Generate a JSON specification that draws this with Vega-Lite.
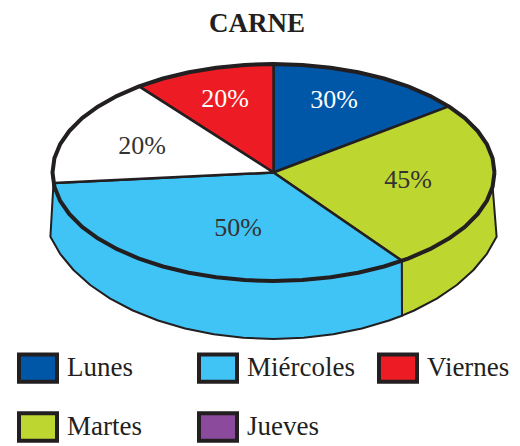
{"$schema":"https://vega.github.io/schema/vega-lite/v6.json","width":520,"height":446,"padding":0,"autosize":{"type":"none"},"background":"white","title":{"text":"CARNE","font":"Liberation Serif","fontSize":27,"fontWeight":"bold","color":"#231f20","anchor":"middle","dx":-3,"dy":27,"offset":-38,"baseline":"bottom"},"view":{"stroke":null},"config":{"axis":{"domain":false}},"datasets":{"caras":[
{"dia":"Miércoles","parte":"lateral","o":1,"x":-220,"y":-10.4},{"dia":"Miércoles","parte":"lateral","o":2,"x":-219.1,"y":-14.2},{"dia":"Miércoles","parte":"lateral","o":3,"x":-213.5,"y":-28.1},{"dia":"Miércoles","parte":"lateral","o":4,"x":-204.2,"y":-41.5},{"dia":"Miércoles","parte":"lateral","o":5,"x":-191.4,"y":-54.3},{"dia":"Miércoles","parte":"lateral","o":6,"x":-175.3,"y":-66.1},{"dia":"Miércoles","parte":"lateral","o":7,"x":-156.3,"y":-76.7},{"dia":"Miércoles","parte":"lateral","o":8,"x":-134.5,"y":-86.1},{"dia":"Miércoles","parte":"lateral","o":9,"x":-110.5,"y":-94},{"dia":"Miércoles","parte":"lateral","o":10,"x":-84.6,"y":-100.2},{"dia":"Miércoles","parte":"lateral","o":11,"x":-57.2,"y":-104.8},{"dia":"Miércoles","parte":"lateral","o":12,"x":-28.8,"y":-107.6},{"dia":"Miércoles","parte":"lateral","o":13,"x":0,"y":-108.5},{"dia":"Miércoles","parte":"lateral","o":14,"x":28.8,"y":-107.6},{"dia":"Miércoles","parte":"lateral","o":15,"x":57.2,"y":-104.8},{"dia":"Miércoles","parte":"lateral","o":16,"x":84.6,"y":-100.2},{"dia":"Miércoles","parte":"lateral","o":17,"x":110.5,"y":-94},{"dia":"Miércoles","parte":"lateral","o":18,"x":128.4,"y":-88.3},{"dia":"Miércoles","parte":"lateral","o":19,"x":128.5,"y":-143.2},{"dia":"Miércoles","parte":"lateral","o":20,"x":115.5,"y":-148},{"dia":"Miércoles","parte":"lateral","o":21,"x":88.4,"y":-156},{"dia":"Miércoles","parte":"lateral","o":22,"x":59.8,"y":-161.8},{"dia":"Miércoles","parte":"lateral","o":23,"x":30.2,"y":-165.3},{"dia":"Miércoles","parte":"lateral","o":24,"x":0,"y":-166.5},{"dia":"Miércoles","parte":"lateral","o":25,"x":-30.2,"y":-165.3},{"dia":"Miércoles","parte":"lateral","o":26,"x":-59.8,"y":-161.8},{"dia":"Miércoles","parte":"lateral","o":27,"x":-88.4,"y":-156},{"dia":"Miércoles","parte":"lateral","o":28,"x":-115.5,"y":-148},{"dia":"Miércoles","parte":"lateral","o":29,"x":-140.6,"y":-138},{"dia":"Miércoles","parte":"lateral","o":30,"x":-163.3,"y":-126.1},{"dia":"Miércoles","parte":"lateral","o":31,"x":-183.3,"y":-112.5},{"dia":"Miércoles","parte":"lateral","o":32,"x":-200,"y":-97.5},{"dia":"Miércoles","parte":"lateral","o":33,"x":-213.4,"y":-81.3},{"dia":"Miércoles","parte":"lateral","o":34,"x":-223.1,"y":-64.2},{"dia":"Miércoles","parte":"lateral","o":35,"x":-220,"y":-10.4},
{"dia":"Martes","parte":"lateral","o":1,"x":128.4,"y":-88.3},{"dia":"Martes","parte":"lateral","o":2,"x":134.5,"y":-86.1},{"dia":"Martes","parte":"lateral","o":3,"x":156.3,"y":-76.7},{"dia":"Martes","parte":"lateral","o":4,"x":175.3,"y":-66.1},{"dia":"Martes","parte":"lateral","o":5,"x":191.4,"y":-54.3},{"dia":"Martes","parte":"lateral","o":6,"x":204.2,"y":-41.5},{"dia":"Martes","parte":"lateral","o":7,"x":213.5,"y":-28.1},{"dia":"Martes","parte":"lateral","o":8,"x":219.1,"y":-14.2},{"dia":"Martes","parte":"lateral","o":9,"x":223.1,"y":-64.2},{"dia":"Martes","parte":"lateral","o":10,"x":213.4,"y":-81.3},{"dia":"Martes","parte":"lateral","o":11,"x":200,"y":-97.5},{"dia":"Martes","parte":"lateral","o":12,"x":183.3,"y":-112.5},{"dia":"Martes","parte":"lateral","o":13,"x":163.3,"y":-126.1},{"dia":"Martes","parte":"lateral","o":14,"x":140.6,"y":-138},{"dia":"Martes","parte":"lateral","o":15,"x":128.5,"y":-143.2},{"dia":"Martes","parte":"lateral","o":16,"x":128.4,"y":-88.3},
{"dia":"Lunes","parte":"cara","o":1,"x":0,"y":0},{"dia":"Lunes","parte":"cara","o":2,"x":0,"y":108.5},{"dia":"Lunes","parte":"cara","o":3,"x":28.8,"y":107.6},{"dia":"Lunes","parte":"cara","o":4,"x":57.2,"y":104.8},{"dia":"Lunes","parte":"cara","o":5,"x":84.6,"y":100.2},{"dia":"Lunes","parte":"cara","o":6,"x":110.5,"y":94},{"dia":"Lunes","parte":"cara","o":7,"x":134.5,"y":86.1},{"dia":"Lunes","parte":"cara","o":8,"x":156.3,"y":76.7},{"dia":"Lunes","parte":"cara","o":9,"x":175.3,"y":66.1},{"dia":"Lunes","parte":"cara","o":10,"x":0,"y":0},
{"dia":"Martes","parte":"cara","o":1,"x":0,"y":0},{"dia":"Martes","parte":"cara","o":2,"x":175.3,"y":66.1},{"dia":"Martes","parte":"cara","o":3,"x":191.4,"y":54.3},{"dia":"Martes","parte":"cara","o":4,"x":204.2,"y":41.5},{"dia":"Martes","parte":"cara","o":5,"x":213.5,"y":28.1},{"dia":"Martes","parte":"cara","o":6,"x":219.1,"y":14.2},{"dia":"Martes","parte":"cara","o":7,"x":221,"y":0},{"dia":"Martes","parte":"cara","o":8,"x":219.1,"y":-14.2},{"dia":"Martes","parte":"cara","o":9,"x":213.5,"y":-28.1},{"dia":"Martes","parte":"cara","o":10,"x":204.2,"y":-41.5},{"dia":"Martes","parte":"cara","o":11,"x":191.4,"y":-54.3},{"dia":"Martes","parte":"cara","o":12,"x":175.3,"y":-66.1},{"dia":"Martes","parte":"cara","o":13,"x":156.3,"y":-76.7},{"dia":"Martes","parte":"cara","o":14,"x":134.5,"y":-86.1},{"dia":"Martes","parte":"cara","o":15,"x":128.4,"y":-88.3},{"dia":"Martes","parte":"cara","o":16,"x":0,"y":0},
{"dia":"Miércoles","parte":"cara","o":1,"x":0,"y":0},{"dia":"Miércoles","parte":"cara","o":2,"x":128.4,"y":-88.3},{"dia":"Miércoles","parte":"cara","o":3,"x":110.5,"y":-94},{"dia":"Miércoles","parte":"cara","o":4,"x":84.6,"y":-100.2},{"dia":"Miércoles","parte":"cara","o":5,"x":57.2,"y":-104.8},{"dia":"Miércoles","parte":"cara","o":6,"x":28.8,"y":-107.6},{"dia":"Miércoles","parte":"cara","o":7,"x":0,"y":-108.5},{"dia":"Miércoles","parte":"cara","o":8,"x":-28.8,"y":-107.6},{"dia":"Miércoles","parte":"cara","o":9,"x":-57.2,"y":-104.8},{"dia":"Miércoles","parte":"cara","o":10,"x":-84.6,"y":-100.2},{"dia":"Miércoles","parte":"cara","o":11,"x":-110.5,"y":-94},{"dia":"Miércoles","parte":"cara","o":12,"x":-134.5,"y":-86.1},{"dia":"Miércoles","parte":"cara","o":13,"x":-156.3,"y":-76.7},{"dia":"Miércoles","parte":"cara","o":14,"x":-175.3,"y":-66.1},{"dia":"Miércoles","parte":"cara","o":15,"x":-191.4,"y":-54.3},{"dia":"Miércoles","parte":"cara","o":16,"x":-204.2,"y":-41.5},{"dia":"Miércoles","parte":"cara","o":17,"x":-213.5,"y":-28.1},{"dia":"Miércoles","parte":"cara","o":18,"x":-219.1,"y":-14.2},{"dia":"Miércoles","parte":"cara","o":19,"x":-220,"y":-10.4},{"dia":"Miércoles","parte":"cara","o":20,"x":0,"y":0},
{"dia":"Jueves","parte":"cara","o":1,"x":0,"y":0},{"dia":"Jueves","parte":"cara","o":2,"x":-220,"y":-10.4},{"dia":"Jueves","parte":"cara","o":3,"x":-221,"y":0},{"dia":"Jueves","parte":"cara","o":4,"x":-219.1,"y":14.2},{"dia":"Jueves","parte":"cara","o":5,"x":-213.5,"y":28.1},{"dia":"Jueves","parte":"cara","o":6,"x":-204.2,"y":41.5},{"dia":"Jueves","parte":"cara","o":7,"x":-191.4,"y":54.3},{"dia":"Jueves","parte":"cara","o":8,"x":-175.3,"y":66.1},{"dia":"Jueves","parte":"cara","o":9,"x":-156.3,"y":76.7},{"dia":"Jueves","parte":"cara","o":10,"x":-134.5,"y":86.1},{"dia":"Jueves","parte":"cara","o":11,"x":0,"y":0},
{"dia":"Viernes","parte":"cara","o":1,"x":0,"y":0},{"dia":"Viernes","parte":"cara","o":2,"x":-134.5,"y":86.1},{"dia":"Viernes","parte":"cara","o":3,"x":-110.5,"y":94},{"dia":"Viernes","parte":"cara","o":4,"x":-84.6,"y":100.2},{"dia":"Viernes","parte":"cara","o":5,"x":-57.2,"y":104.8},{"dia":"Viernes","parte":"cara","o":6,"x":-28.8,"y":107.6},{"dia":"Viernes","parte":"cara","o":7,"x":0,"y":108.5},{"dia":"Viernes","parte":"cara","o":8,"x":0,"y":0}
],"borde":[
{"o":1,"x":221,"y":0},{"o":2,"x":219.1,"y":14.2},{"o":3,"x":213.5,"y":28.1},{"o":4,"x":204.2,"y":41.5},{"o":5,"x":191.4,"y":54.3},{"o":6,"x":175.3,"y":66.1},{"o":7,"x":156.3,"y":76.7},{"o":8,"x":134.5,"y":86.1},{"o":9,"x":110.5,"y":94},{"o":10,"x":84.6,"y":100.2},{"o":11,"x":57.2,"y":104.8},{"o":12,"x":28.8,"y":107.6},{"o":13,"x":0,"y":108.5},{"o":14,"x":-28.8,"y":107.6},{"o":15,"x":-57.2,"y":104.8},{"o":16,"x":-84.6,"y":100.2},{"o":17,"x":-110.5,"y":94},{"o":18,"x":-134.5,"y":86.1},{"o":19,"x":-156.3,"y":76.7},{"o":20,"x":-175.3,"y":66.1},{"o":21,"x":-191.4,"y":54.3},{"o":22,"x":-204.2,"y":41.5},{"o":23,"x":-213.5,"y":28.1},{"o":24,"x":-219.1,"y":14.2},{"o":25,"x":-221,"y":0},{"o":26,"x":-219.1,"y":-14.2},{"o":27,"x":-213.5,"y":-28.1},{"o":28,"x":-204.2,"y":-41.5},{"o":29,"x":-191.4,"y":-54.3},{"o":30,"x":-175.3,"y":-66.1},{"o":31,"x":-156.3,"y":-76.7},{"o":32,"x":-134.5,"y":-86.1},{"o":33,"x":-110.5,"y":-94},{"o":34,"x":-84.6,"y":-100.2},{"o":35,"x":-57.2,"y":-104.8},{"o":36,"x":-28.8,"y":-107.6},{"o":37,"x":0,"y":-108.5},{"o":38,"x":28.8,"y":-107.6},{"o":39,"x":57.2,"y":-104.8},{"o":40,"x":84.6,"y":-100.2},{"o":41,"x":110.5,"y":-94},{"o":42,"x":134.5,"y":-86.1},{"o":43,"x":156.3,"y":-76.7},{"o":44,"x":175.3,"y":-66.1},{"o":45,"x":191.4,"y":-54.3},{"o":46,"x":204.2,"y":-41.5},{"o":47,"x":213.5,"y":-28.1},{"o":48,"x":219.1,"y":-14.2},{"o":49,"x":221,"y":0}
],"etiquetas":[
{"dia":"Lunes","valor":"30%","x":60.5,"y":72.5,"claro":true},{"dia":"Martes","valor":"45%","x":134.5,"y":-7.5,"claro":false},{"dia":"Miércoles","valor":"50%","x":-35.5,"y":-55.5,"claro":false},{"dia":"Jueves","valor":"20%","x":-131.5,"y":26.5,"claro":false},{"dia":"Viernes","valor":"20%","x":-48.5,"y":73.5,"claro":true}
]},
"encoding":{"x":{"field":"x","type":"quantitative","axis":null,"scale":{"domain":[-273.5,246.5],"nice":false,"zero":false}},"y":{"field":"y","type":"quantitative","axis":null,"scale":{"domain":[-273.5,172.5],"nice":false,"zero":false}}},
"layer":[
{"data":{"name":"caras"},"transform":[{"filter":"datum.parte==='lateral'"}],"mark":{"type":"line","stroke":"#231f20","strokeWidth":2,"strokeJoin":"round","clip":false},"encoding":{"order":{"field":"o","type":"quantitative"},"fill":{"field":"dia","type":"nominal","scale":{"domain":["Lunes","Martes","Miércoles","Jueves","Viernes"],"range":["#0057a8","#bed630","#40c4f6","#8b4a9c","#ed1c24"]},"legend":{"title":null,"orient":"none","legendX":17,"legendY":347,"columns":3,"gridAlign":"all","columnPadding":16,"rowPadding":15,"symbolType":"M-1,-0.72H1V0.72H-1Z","symbolSize":1444,"symbolStrokeWidth":4,"symbolStrokeColor":"#231f20","symbolOpacity":1,"labelFont":"Liberation Serif","labelFontSize":27,"labelColor":"#231f20","labelOffset":8,"labelLimit":200}}}},
{"data":{"name":"caras"},"transform":[{"filter":"datum.parte==='cara' && datum.dia!=='Jueves'"}],"mark":{"type":"line","stroke":"#231f20","strokeWidth":2.5,"strokeJoin":"round"},"encoding":{"order":{"field":"o","type":"quantitative"},"fill":{"field":"dia","type":"nominal"}}},
{"data":{"name":"caras"},"transform":[{"filter":"datum.parte==='cara' && datum.dia==='Jueves'"}],"mark":{"type":"line","stroke":"#231f20","strokeWidth":2.5,"strokeJoin":"round","fill":"white"},"encoding":{"order":{"field":"o","type":"quantitative"}}},
{"data":{"name":"borde"},"mark":{"type":"line","stroke":"#231f20","strokeWidth":4,"strokeJoin":"round"},"encoding":{"order":{"field":"o","type":"quantitative"}}},
{"data":{"name":"etiquetas"},"mark":{"type":"text","font":"Liberation Serif","fontSize":26},"encoding":{"text":{"field":"valor","type":"nominal"},"color":{"field":"claro","type":"nominal","scale":{"domain":[true,false],"range":["white","#333333"]},"legend":null}}}
]}
